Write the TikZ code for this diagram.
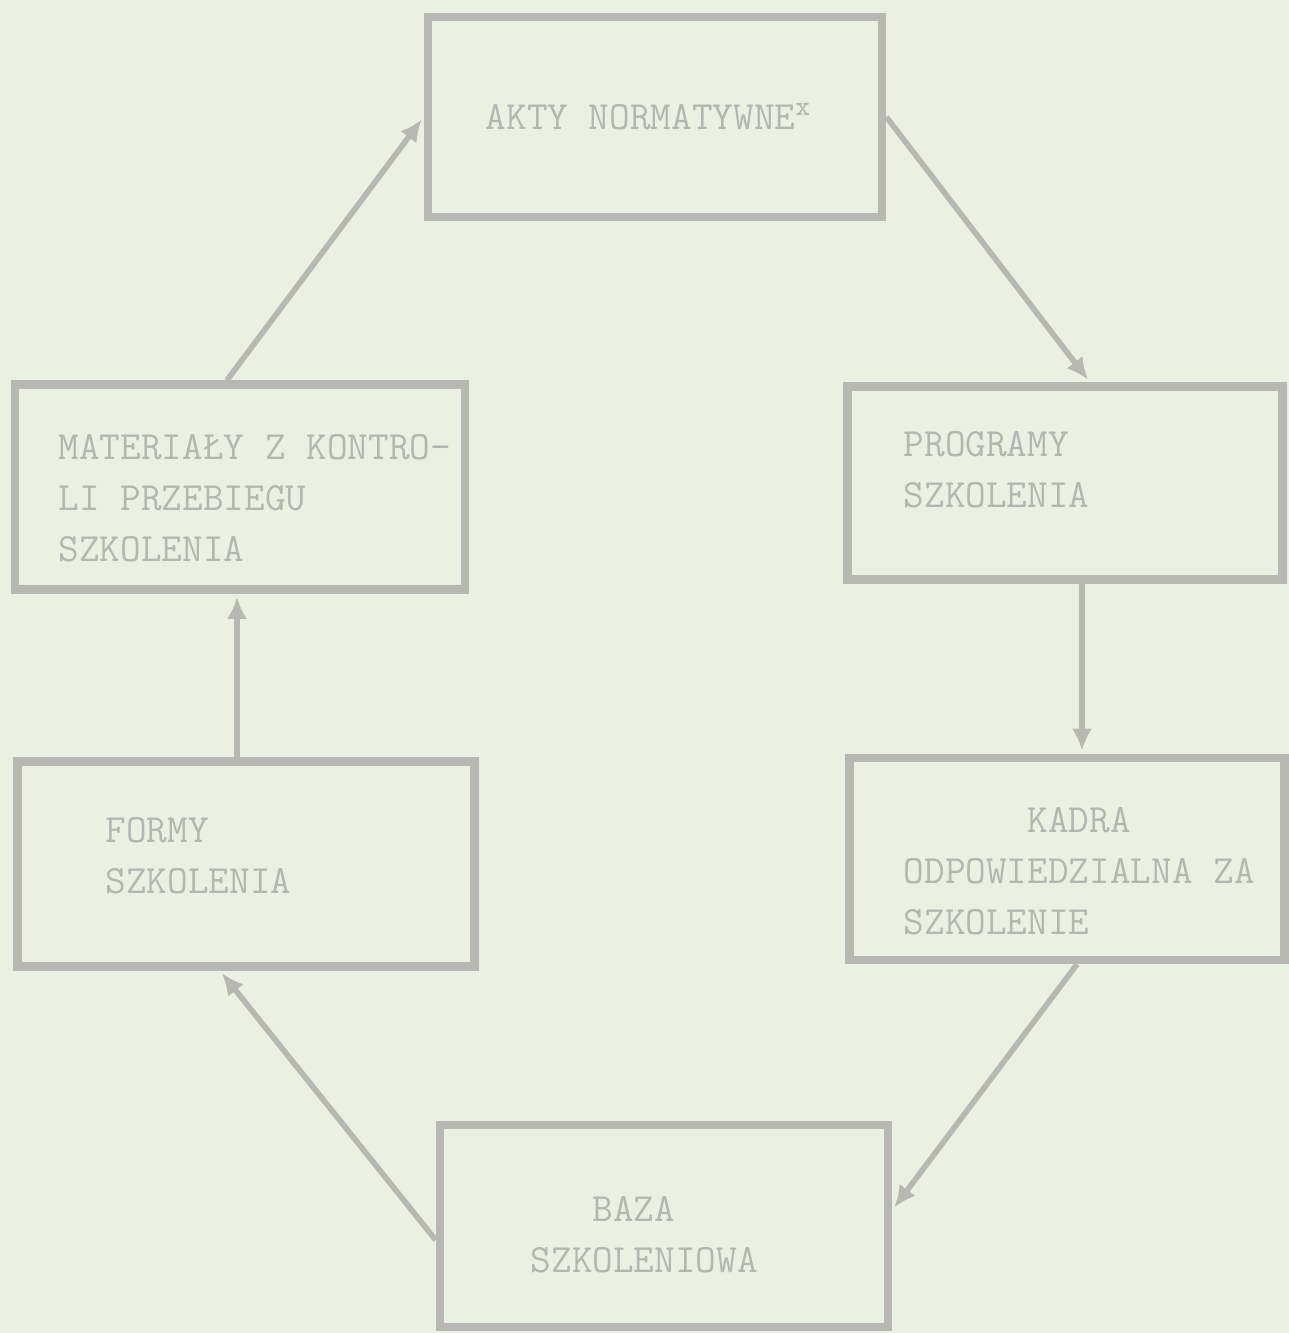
\documentclass[tikz,border=0pt]{standalone}
\usepackage{fontspec}
\usetikzlibrary{arrows.meta}
\definecolor{paper}{RGB}{235,241,226}
\definecolor{pencil}{RGB}{182,184,177}
\definecolor{typed}{RGB}{180,182,176}

\begin{document}
\begin{tikzpicture}[x=0.01cm, y=-0.01cm,
  box/.style={draw=pencil, line width=2.4pt, inner sep=0pt},
  txt/.style={anchor=west, align=left, text=typed, inner sep=0pt,
    font=\ttfamily\fontsize{11.4}{14.5}\selectfont},
  flow/.style={draw=pencil, line width=1.6pt, shorten >=0.03cm,
    -{Latex[length=0.22cm,width=0.2cm]}}]
% paper
\fill[paper] (0,0) rectangle (1289,1333);
\useasboundingbox (0,0) rectangle (1289,1333);

% Top box
\node[box, minimum width=4.54cm, minimum height=2cm] (akty) at (655,117) {};
\node[txt] (aktytxt) at (485,117) {AKTY NORMATYWNE\textsuperscript{x}};

% Left column
\node[box, minimum width=4.5cm, minimum height=2.05cm] (mater) at (240,487) {};
\node[txt] (matertxt) at (58,498) {MATERIAŁY Z KONTRO-\\LI PRZEBIEGU\\SZKOLENIA};

\node[box, minimum width=4.57cm, minimum height=2.05cm] (formy) at (246,864) {};
\node[txt] (formytxt) at (105,856) {FORMY\\SZKOLENIA};

% Right column
\node[box, minimum width=4.35cm, minimum height=1.93cm] (prog) at (1065,483) {};
\node[txt] (progtxt) at (903,470) {PROGRAMY\\SZKOLENIA};

\node[box, minimum width=4.35cm, minimum height=2.02cm] (kadra) at (1067,859) {};
\node[txt] (kadratxt) at (903,871) {\phantom{ODPOWI}KADRA\\ODPOWIEDZIALNA ZA\\SZKOLENIE};

% Bottom box
\node[box, minimum width=4.48cm, minimum height=2.02cm] (baza) at (664,1226) {};
\node[txt] (bazatxt) at (530,1235) {\phantom{SZK}BAZA\\SZKOLENIOWA};

% Cycle
\draw[flow] ([xshift=-0.13cm]mater.north) -- (akty.west);
\draw[flow] (akty.east) -- ([xshift=0.25cm]prog.north);
\draw[flow] ([xshift=0.17cm]prog.south) -- ([xshift=0.17cm]prog.south |- kadra.north);
\draw[flow] ([xshift=0.10cm]kadra.south) -- ([yshift=0.16cm]baza.east);
\draw[flow] ([yshift=-0.14cm]baza.west) -- ([xshift=-0.26cm]formy.south);
\draw[flow] ([xshift=-0.09cm]formy.north) -- ([xshift=-0.09cm]formy.north |- mater.south);

\end{tikzpicture}
\end{document}
